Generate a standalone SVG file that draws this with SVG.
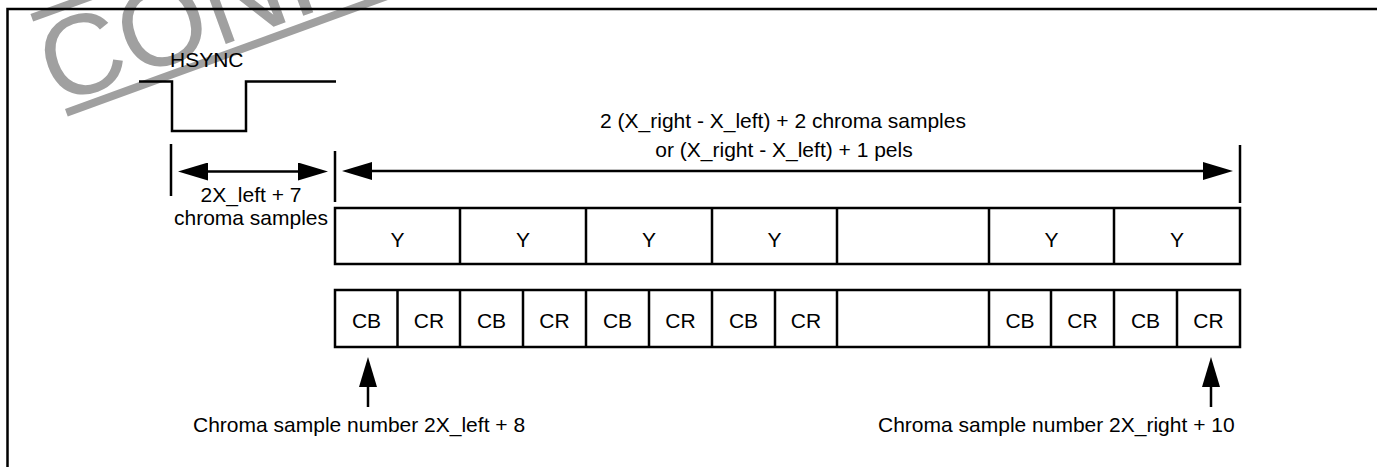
<svg xmlns="http://www.w3.org/2000/svg" width="1377" height="467" viewBox="0 0 1377 467">
<style>
text{font-family:"Liberation Sans",Arial,sans-serif;font-size:21px;fill:#000}
.c{text-anchor:middle}
.ln{stroke:#000;stroke-width:2.5;fill:none}
.box{stroke:#000;stroke-width:2.5;fill:none}
.wm{fill:#a0a0a0}
.wmt{font-size:114px;fill:#a0a0a0}
</style>
<defs>
<marker id="ah" markerUnits="userSpaceOnUse" markerWidth="30" markerHeight="18" viewBox="0 0 30 18" refX="0" refY="9" orient="auto-start-reverse">
<path d="M0,0 L30,9 L0,18 z" fill="#000"/>
</marker>
</defs>
<rect width="1377" height="467" fill="#fff"/>
<g id="watermark" transform="translate(48,112) rotate(-20)">
<text class="wmt" x="10" y="-3">CONFIDENTIAL</text>
<rect class="wm" x="17" y="3" width="1500" height="8"/>
<rect class="wm" x="17" y="-98" width="1500" height="8"/>
</g>
<g id="frame">
<path class="ln" d="M7.5,467 V9 H1377" stroke-width="2.7"/>
</g>
<g id="hsync">
<polyline class="ln" points="139,81.5 172,81.5 172,131 246,131 246,81.5 336,81.5"/>
<text x="170" y="67">HSYNC</text>
</g>
<g id="left-span-label">
<text class="c" x="251" y="202">2X_left + 7</text>
<text class="c" x="251" y="225">chroma samples</text>
</g>
<g id="total-span-label">
<text class="c" x="783" y="128">2 (X_right - X_left) + 2 chroma samples</text>
<text class="c" x="784" y="157">or (X_right - X_left) + 1 pels</text>
</g>
<g id="y-row">
<rect class="box" x="335" y="208" width="905" height="56"/>
<path class="ln" d="M460,208V264M586,208V264M712,208V264M837,208V264M989,208V264M1114,208V264"/>
<text class="c" x="397.5" y="247">Y</text>
<text class="c" x="523" y="247">Y</text>
<text class="c" x="649" y="247">Y</text>
<text class="c" x="774.5" y="247">Y</text>
<text class="c" x="1051.5" y="247">Y</text>
<text class="c" x="1177" y="247">Y</text>
</g>
<g id="c-row">
<rect class="box" x="335" y="290" width="905" height="57"/>
<path class="ln" d="M397.5,290V347M460,290V347M523,290V347M586,290V347M649,290V347M712,290V347M775,290V347M837,290V347M989,290V347M1051,290V347M1114,290V347M1177,290V347"/>
<text class="c" x="366.5" y="328">CB</text>
<text class="c" x="429" y="328">CR</text>
<text class="c" x="491.5" y="328">CB</text>
<text class="c" x="554.5" y="328">CR</text>
<text class="c" x="617.5" y="328">CB</text>
<text class="c" x="680.5" y="328">CR</text>
<text class="c" x="743.5" y="328">CB</text>
<text class="c" x="806" y="328">CR</text>
<text class="c" x="1020" y="328">CB</text>
<text class="c" x="1082.5" y="328">CR</text>
<text class="c" x="1145.5" y="328">CB</text>
<text class="c" x="1208.5" y="328">CR</text>
</g>
<g id="start-label">
<text x="193" y="432">Chroma sample number 2X_left + 8</text>
</g>
<g id="end-label">
<text x="878" y="432">Chroma sample number 2X_right + 10</text>
</g>
<g id="connectors">
<path class="ln" d="M171,144V196M335,151V202M1240,145V203"/>
<line class="ln" x1="208" y1="171.5" x2="298" y2="171.5" marker-start="url(#ah)" marker-end="url(#ah)"/>
<line class="ln" x1="372" y1="171" x2="1203" y2="171" marker-start="url(#ah)" marker-end="url(#ah)"/>
<line class="ln" x1="368" y1="407" x2="368" y2="387" marker-end="url(#ah)"/>
<line class="ln" x1="1211" y1="407" x2="1211" y2="387" marker-end="url(#ah)"/>
</g>
</svg>
